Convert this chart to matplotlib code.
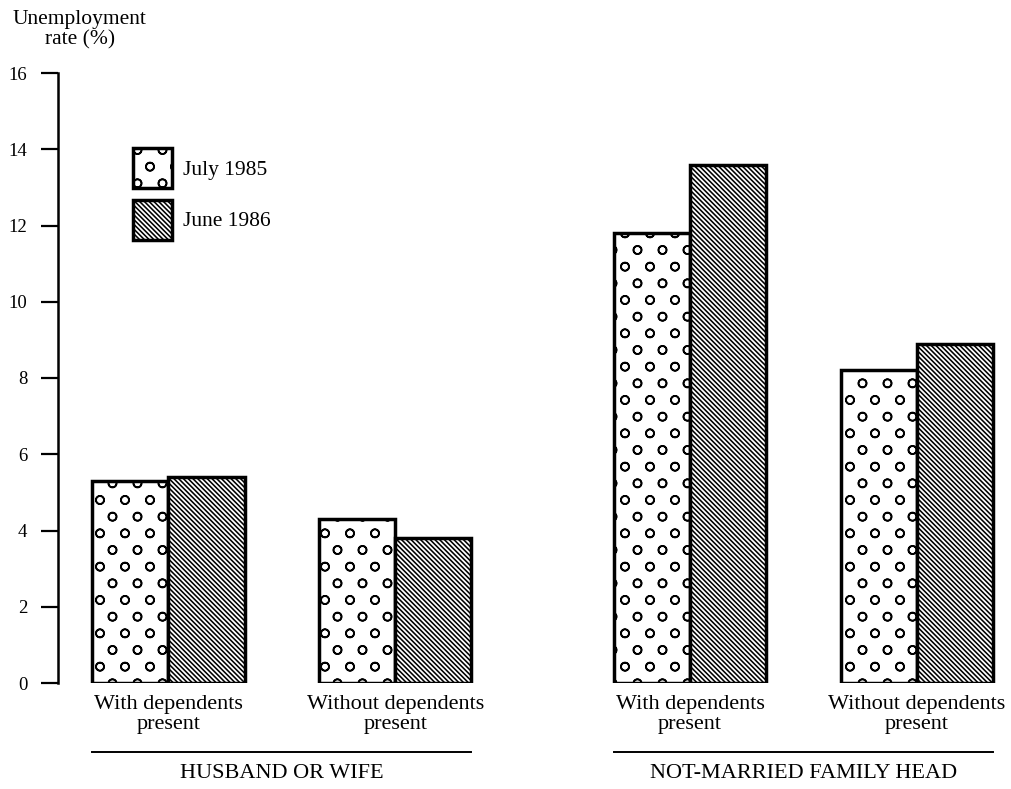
import matplotlib
matplotlib.use("Agg")
import matplotlib.pyplot as plt
import matplotlib.hatch as mhatch
from matplotlib.path import Path
import numpy as np

# ---- data ----
categories = ["With dependents\npresent", "Without dependents\npresent",
              "With dependents\npresent", "Without dependents\npresent"]
groups = ["HUSBAND OR WIFE", "NOT-MARRIED FAMILY HEAD"]
series_names = ["July 1985", "June 1986"]
july_1985 = [5.3, 4.3, 11.8, 8.2]
june_1986 = [5.4, 3.8, 13.6, 8.9]
yticks = [0, 2, 4, 6, 8, 10, 12, 14, 16]


# sparse, open-circle hatch (like the dotted screen in the original)
class SparseCircles(mhatch.HatchPatternBase):
    radius = 0.042

    def __init__(self, hatch, density):
        n = hatch.count('O')
        circ = Path.unit_circle()
        self.shape_vertices = circ.vertices
        self.shape_codes = circ.codes
        self.centers = []
        if n:
            ncols, nrows = 4 * n, 6 * n
            for i in range(nrows + 1):
                y = i / nrows
                if i % 2 == 0:
                    xs = [j / ncols for j in range(ncols + 1)]
                else:
                    xs = [(j + 0.5) / ncols for j in range(ncols)]
                for x in xs:
                    self.centers.append((x, y))
        self.num_vertices = len(self.centers) * len(self.shape_vertices) * 2

    def set_vertices_and_codes(self, vertices, codes):
        sv = self.shape_vertices * self.radius
        sv = np.concatenate([sv, sv[::-1] * 0.9])
        sc = np.concatenate([self.shape_codes, self.shape_codes])
        k = len(sv)
        for idx, (x, y) in enumerate(self.centers):
            vertices[idx * k:(idx + 1) * k] = sv + (x, y)
            codes[idx * k:(idx + 1) * k] = sc


mhatch._hatch_types[:] = [SparseCircles if t is mhatch.LargeCircles else t
                          for t in mhatch._hatch_types]

# ---- style ----
plt.rcParams['font.family'] = ['Liberation Serif', 'DejaVu Serif']
plt.rcParams['hatch.linewidth'] = 1.15

fig = plt.figure(figsize=(10.12, 7.89), dpi=100)
ax = fig.add_axes([58/1012, (789-683)/789, (1012-58)/1012, (683-73)/789])

pos = np.array([0, 1, 2.3, 3.3])
w = 0.336
b1 = ax.bar(pos - w/2, july_1985, width=w, facecolor='white', edgecolor='black',
            linewidth=2.5, hatch='O', label=series_names[0])
b2 = ax.bar(pos + w/2, june_1986, width=w, facecolor='white', edgecolor='black',
            linewidth=2.5, hatch='\\' * 7, label=series_names[1])

ax.set_xlim(-0.487, 3.72)
ax.set_ylim(0, 16)
ax.set_yticks(yticks)
ax.set_yticklabels([str(v) for v in yticks], fontsize=13.5)
ax.tick_params(axis='y', direction='out', length=12, width=1.6, pad=10)
ax.set_xticks(pos)
ax.set_xticklabels(categories, fontsize=16, linespacing=1.05)
ax.tick_params(axis='x', length=0, pad=9)
for s in ['top', 'right', 'bottom']:
    ax.spines[s].set_visible(False)
ax.spines['left'].set_linewidth(1.8)

# group underlines and labels
trans = matplotlib.transforms.blended_transform_factory(ax.transData, ax.transAxes)
group_spans = [(pos[0] - w, pos[1] + w), (pos[2] - w, pos[3] + w)]
for (x0, x1), g in zip(group_spans, groups):
    ax.plot([x0, x1], [-0.113, -0.113], color='black', lw=1.4,
            transform=trans, clip_on=False)
    ax.text((x0 + x1) / 2, -0.148, g, transform=trans, ha='center', va='center',
            fontsize=16)

# legend
fs = 15.5
leg = ax.legend(handles=[b1, b2], loc='upper left',
                bbox_to_anchor=(133/1012, 1 - 148/789),
                bbox_transform=fig.transFigure, frameon=False, fontsize=fs,
                handlelength=1.8, handleheight=2.48, labelspacing=0.55,
                handletextpad=0.5, borderpad=0, borderaxespad=0)

fig.text(80/1012, 1 - 30/789, "Unemployment\nrate (%)", ha='center', va='center',
         fontsize=15.5, linespacing=1.1)

fig.savefig("out.png", dpi=100, facecolor='white')
